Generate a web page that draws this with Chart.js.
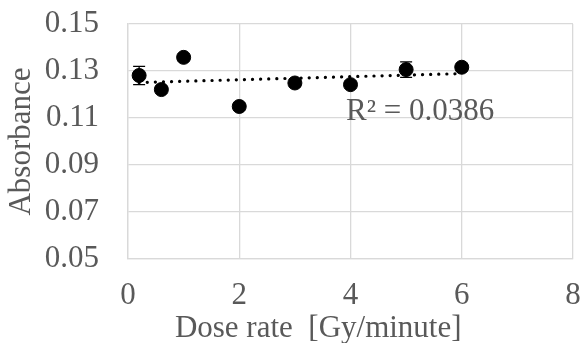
<!DOCTYPE html>
<html>
<head>
<meta charset="utf-8">
<script src="https://cdn.jsdelivr.net/npm/chart.js@4"></script>
<style>
  body { margin: 0; background: #fff; }
  #wrap { width: 583px; height: 343px; }
</style>
</head>
<body>
<div id="wrap"><canvas id="chart"></canvas></div>
<script>
// Data
const doseRates = [0.2, 0.6, 1, 2, 3, 4, 5, 6];
const absorbance = [0.1281, 0.1221, 0.1358, 0.1149, 0.1249, 0.1242, 0.1306, 0.1316];
const errors = [0.0039, 0.0015, 0.0015, 0.0015, 0.0015, 0.0015, 0.0033, 0.0015];
const trendX = [0.2, 6];
const trendY = [0.1251, 0.1289];
const rSquaredText = "R² = 0.0386";
const xTitle = "Dose rate  [Gy/minute]";
const yTitle = "Absorbance";

const textColor = "#595959";
const gridColor = "#d9d9d9";
const fontFamily = "'Liberation Serif', 'Times New Roman', serif";
const fontSize = 31;

// Draws the vertical error bars with caps
const errorBarPlugin = {
  id: "errorBars",
  afterDatasetsDraw(chart) {
    const ctx = chart.ctx;
    const x = chart.scales.x;
    const y = chart.scales.y;
    ctx.save();
    ctx.strokeStyle = "#000";
    ctx.lineWidth = 1.3;
    doseRates.forEach((d, i) => {
      const px = x.getPixelForValue(d);
      const top = y.getPixelForValue(absorbance[i] + errors[i]);
      const bottom = y.getPixelForValue(absorbance[i] - errors[i]);
      ctx.beginPath();
      ctx.moveTo(px, top);
      ctx.lineTo(px, bottom);
      ctx.moveTo(px - 6, top);
      ctx.lineTo(px + 6, top);
      ctx.moveTo(px - 6, bottom);
      ctx.lineTo(px + 6, bottom);
      ctx.stroke();
    });
    ctx.restore();
  },
};

// Writes the R² label and the x axis title (the title sits left of the plot centre)
const textPlugin = {
  id: "extraText",
  afterDraw(chart) {
    const ctx = chart.ctx;
    ctx.save();
    ctx.fillStyle = textColor;
    ctx.font = fontSize + "px " + fontFamily;
    ctx.textBaseline = "alphabetic";
    ctx.textAlign = "left";
    ctx.fillText(rSquaredText, chart.scales.x.getPixelForValue(3.92), chart.scales.y.getPixelForValue(0.1092));
    ctx.textAlign = "center";
    ctx.fillText(xTitle, chart.scales.x.getPixelForValue(3.42), chart.height - 6);
    ctx.restore();
  },
};

const ctx = document.getElementById("chart").getContext("2d");

new Chart(ctx, {
  type: "scatter",
  data: {
    datasets: [
      {
        label: "Trend",
        data: trendX.map((x, i) => ({ x: x, y: trendY[i] })),
        showLine: true,
        borderColor: "#000",
        borderWidth: 3.2,
        borderDash: [0.1, 8],
        borderCapStyle: "round",
        pointRadius: 0,
        order: 2,
      },
      {
        label: "Absorbance",
        data: doseRates.map((x, i) => ({ x: x, y: absorbance[i] })),
        backgroundColor: "#000",
        borderColor: "#000",
        pointRadius: 7,
        pointHoverRadius: 7,
        order: 1,
      },
    ],
  },
  options: {
    responsive: true,
    maintainAspectRatio: false,
    animation: false,
    layout: {
      padding: { top: 24, right: 10, left: 0, bottom: 0 },
    },
    plugins: {
      legend: { display: false },
      tooltip: { enabled: false },
    },
    scales: {
      x: {
        type: "linear",
        min: 0,
        max: 8,
        ticks: {
          stepSize: 2,
          color: textColor,
          font: { family: fontFamily, size: fontSize },
          padding: 18,
        },
        grid: { color: gridColor, lineWidth: 1.3, drawTicks: false },
        border: { color: gridColor, width: 1.3 },
        afterFit(scale) {
          scale.height = 84;
          scale.paddingLeft = 0;
          scale.paddingRight = 0;
        },
      },
      y: {
        min: 0.05,
        max: 0.15,
        ticks: {
          stepSize: 0.02,
          color: textColor,
          font: { family: fontFamily, size: fontSize },
          padding: 29,
          callback: (v) => v.toFixed(2),
        },
        grid: { color: gridColor, lineWidth: 1.3, drawTicks: false },
        border: { color: gridColor, width: 1.3 },
        title: {
          display: true,
          text: yTitle,
          color: textColor,
          font: { family: fontFamily, size: fontSize },
          padding: { top: 3, bottom: 0 },
        },
        afterFit(scale) {
          scale.width = 128;
          scale.paddingTop = 0;
          scale.paddingBottom = 0;
        },
      },
    },
  },
  plugins: [errorBarPlugin, textPlugin],
});
</script>
</body>
</html>
